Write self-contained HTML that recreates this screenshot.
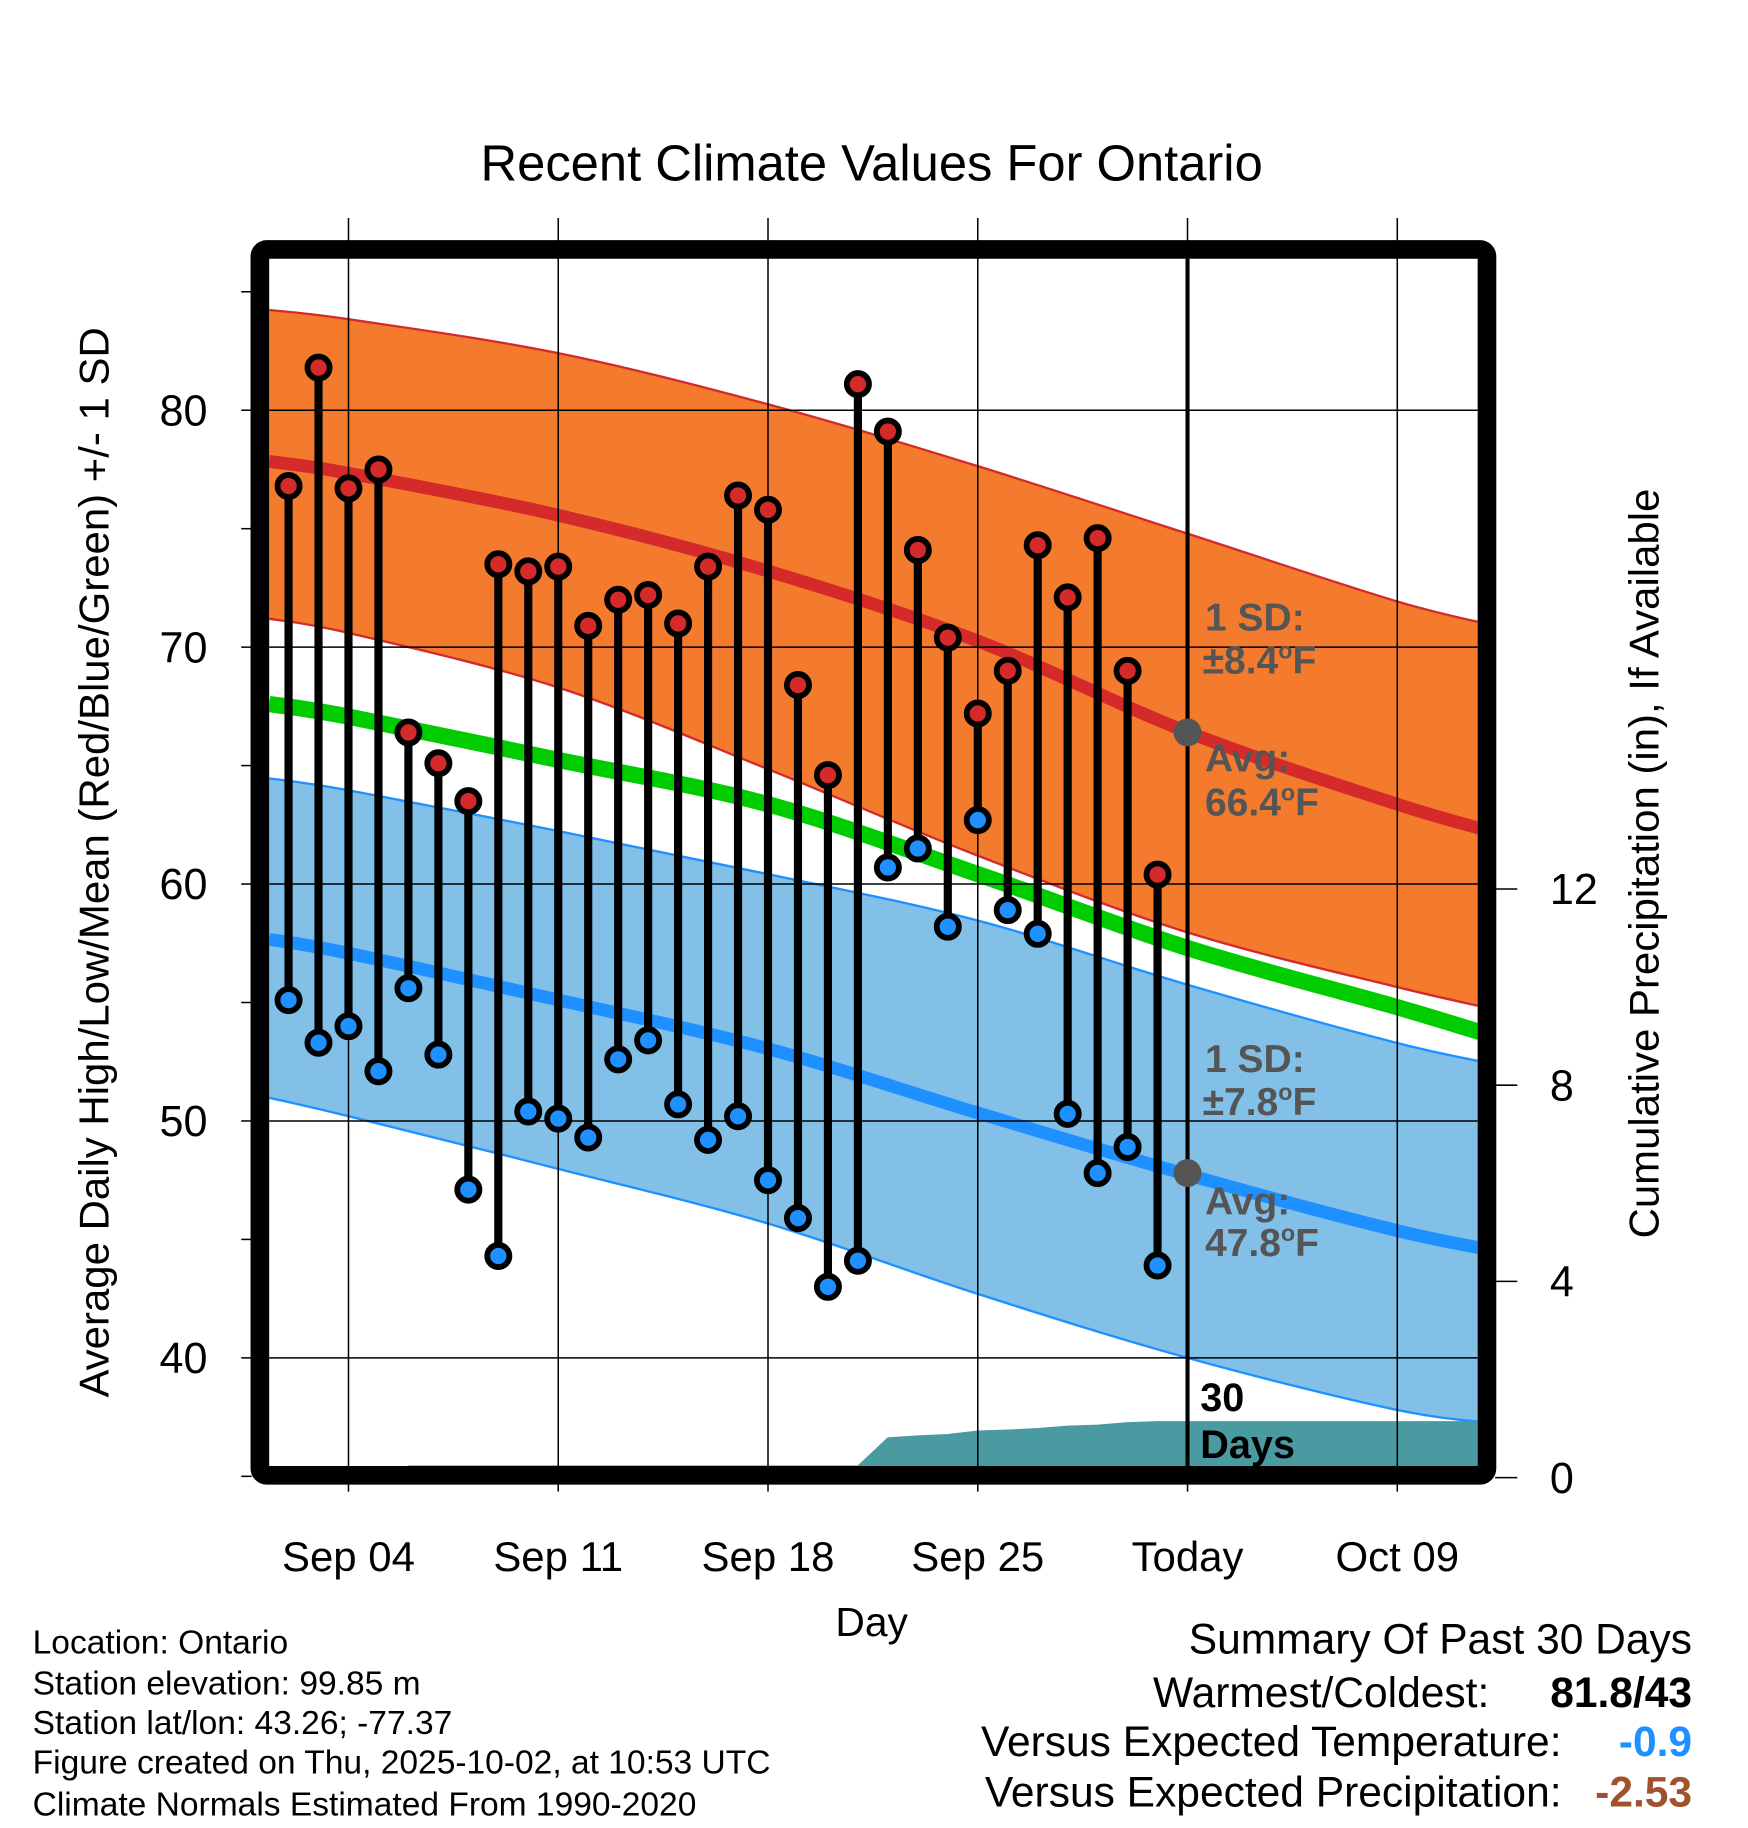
<!DOCTYPE html>
<html><head><meta charset="utf-8"><style>
html,body{margin:0;padding:0;background:#fff;}
svg{display:block;font-family:"Liberation Sans",Arial,sans-serif;}
</style></head><body>
<svg id="chart" width="1748" height="1828" viewBox="0 0 1500 1568.6" xmlns="http://www.w3.org/2000/svg">
<text x="748" y="155" font-size="43.5" text-anchor="middle">Recent Climate Values For Ontario</text>
<g id="bands"></g>
<g id="grid"></g>
<g id="marks"></g>
<g id="axes"></g>
<text transform="translate(93,740) rotate(-90)" font-size="36" text-anchor="middle">Average Daily High/Low/Mean (Red/Blue/Green) +/- 1 SD</text>
<text transform="translate(1423,741) rotate(-90)" font-size="36" text-anchor="middle">Cumulative Precipitation (in), If Available</text>
<text x="748" y="1404" font-size="35" text-anchor="middle">Day</text>
<g fill="#555" font-size="33.5" font-weight="bold">
<text x="1034" y="541">1 SD:</text>
<text x="1032" y="578">±8.4<tspan font-size="20" dy="-13">o</tspan><tspan dy="13">F</tspan></text>
<text x="1034" y="662">Avg:</text>
<text x="1034" y="700">66.4<tspan font-size="20" dy="-13">o</tspan><tspan dy="13">F</tspan></text>
</g>
<g fill="#555" font-size="33.5" font-weight="bold">
<text x="1034" y="920">1 SD:</text>
<text x="1032" y="957">±7.8<tspan font-size="20" dy="-13">o</tspan><tspan dy="13">F</tspan></text>
<text x="1034" y="1042">Avg:</text>
<text x="1034" y="1078">47.8<tspan font-size="20" dy="-13">o</tspan><tspan dy="13">F</tspan></text>
</g>
<text x="1030" y="1211" font-size="34" font-weight="bold">30</text>
<text x="1030" y="1251" font-size="34" font-weight="bold">Days</text>
<g font-size="28.8">
<text x="28" y="1419">Location: Ontario</text>
<text x="28" y="1454">Station elevation: 99.85 m</text>
<text x="28" y="1488">Station lat/lon: 43.26; -77.37</text>
<text x="28" y="1522">Figure created on Thu, 2025-10-02, at 10:53 UTC</text>
<text x="28" y="1558">Climate Normals Estimated From 1990-2020</text>
</g>
<g font-size="36.5">
<text x="1452" y="1419" text-anchor="end">Summary Of Past 30 Days</text>
<text x="1278" y="1465" text-anchor="end">Warmest/Coldest:</text>
<text x="1452" y="1465" text-anchor="end" font-weight="bold">81.8/43</text>
<text x="1340" y="1507" text-anchor="end">Versus Expected Temperature:</text>
<text x="1452" y="1507" text-anchor="end" font-weight="bold" fill="#1e90ff">-0.9</text>
<text x="1340" y="1550" text-anchor="end">Versus Expected Precipitation:</text>
<text x="1452" y="1550" text-anchor="end" font-weight="bold" fill="#a0522d">-2.53</text>
</g>
</svg>
<script>
// data (day offsets from Sep 1)
const highs = [76.8,81.8,76.7,77.5,66.4,65.1,63.5,73.5,73.2,73.4,70.9,72.0,72.2,71.0,73.4,76.4,75.8,68.4,64.6,81.1,79.1,74.1,70.4,67.2,69.0,74.3,72.1,74.6,69.0,60.4];
const lows  = [55.1,53.3,54.0,52.1,55.6,52.8,47.1,44.3,50.4,50.1,49.3,52.6,53.4,50.7,49.2,50.2,47.5,45.9,43.0,44.1,60.7,61.5,58.2,62.7,58.9,57.9,50.3,47.8,48.9,43.9];
const firstDay = 1;
const normDays = [0.35,3,10,17,24,31,38,41.65];
const normHighUpper = [84.23,83.84,82.41,80.25,77.64,74.79,71.93,70.80];
const normHighAvg   = [77.84,77.34,75.57,73.21,70.26,66.42,63.37,62.05];
const normHighLower = [71.2,70.6,68.3,64.85,61.2,57.96,55.65,54.6];
const normMean      = [67.6,67.07,65.24,63.37,60.42,57.3,54.8,53.4];
const normLowUpper  = [64.46,63.96,62.24,60.42,58.46,55.75,53.29,52.3];
const normLowAvg    = [57.67,57.08,55.11,53.05,50.34,47.73,45.37,44.44];
const normLowLower  = [50.98,50.2,47.98,45.67,42.7,40.0,37.8,37.2];
const precipDays = [5,19,20,21,22,23,24,25,26,27,28,29,30,41.65];
const precipVals = [0,0,0.2,0.81,0.85,0.88,0.95,0.97,1.0,1.05,1.07,1.12,1.14,1.14];
const yTicks = [40,50,60,70,80];
const y2Ticks = [0,4,8,12];
const xTickDays = [3,10,17,24,31,38];
const xTickLabels = ["Sep 04","Sep 11","Sep 18","Sep 25","Today","Oct 09"];
const todayDay = 31, todayHigh = 66.4, todayLow = 47.8;

const L=231,R=1268,T=222,B=1259;
const X=d=>221.9+d*(180/7);
const Y=v=>352+(80-v)*20.33;
const Y2=p=>1268-p*42.1;
const NS="http://www.w3.org/2000/svg";
function mk(tag,parent,attrs){const e=document.createElementNS(NS,tag);for(const k in attrs)e.setAttribute(k,attrs[k]);parent.appendChild(e);return e;}
const bands=document.getElementById('bands'),grid=document.getElementById('grid'),marks=document.getElementById('marks'),axes=document.getElementById('axes');
const svg=document.getElementById('chart');
const defs=mk('defs',svg,{});const cp=mk('clipPath',defs,{id:'pc'});mk('rect',cp,{x:L,y:T,width:R-L,height:B-T});
bands.setAttribute('clip-path','url(#pc)');marks.setAttribute('clip-path','url(#pc)');
// smooth path through points (Catmull-Rom)
function smooth(pts,move){
  let s=(move?'M':'L')+pts[0][0].toFixed(1)+','+pts[0][1].toFixed(1);
  for(let i=0;i<pts.length-1;i++){
    const p0=pts[Math.max(0,i-1)],p1=pts[i],p2=pts[i+1],p3=pts[Math.min(pts.length-1,i+2)];
    const c1=[p1[0]+(p2[0]-p0[0])/6,p1[1]+(p2[1]-p0[1])/6];
    const c2=[p2[0]-(p3[0]-p1[0])/6,p2[1]-(p3[1]-p1[1])/6];
    s+='C'+c1[0].toFixed(1)+','+c1[1].toFixed(1)+' '+c2[0].toFixed(1)+','+c2[1].toFixed(1)+' '+p2[0].toFixed(1)+','+p2[1].toFixed(1);
  }
  return s;
}
const pts=arr=>normDays.map((d,i)=>[X(d),Y(arr[i])]);
const line=arr=>smooth(pts(arr),true);
const band=(u,l)=>smooth(pts(u),true)+smooth(pts(l).reverse(),false)+'Z';
let e;
e=mk('path',bands,{d:band(normLowUpper,normLowLower),fill:'#82c0e8',stroke:'none'});

e=mk('path',bands,{d:line(normLowUpper),fill:'none',stroke:'#1e90ff','stroke-width':2});
e=mk('path',bands,{d:line(normLowLower),fill:'none',stroke:'#1e90ff','stroke-width':2});
e=mk('path',bands,{d:band(normHighUpper,normHighLower),fill:'#f47b2e',stroke:'none'});

e=mk('path',bands,{d:line(normHighUpper),fill:'none',stroke:'#d42a2a','stroke-width':2});
e=mk('path',bands,{d:line(normHighLower),fill:'none',stroke:'#d42a2a','stroke-width':2});
e=mk('path',bands,{d:line(normMean),fill:'none',stroke:'#00cc00','stroke-width':14});

e=mk('path',bands,{d:line(normHighAvg),fill:'none',stroke:'#d42a2a','stroke-width':11});

e=mk('path',bands,{d:line(normLowAvg),fill:'none',stroke:'#1e90ff','stroke-width':11});

// precip
let pd='M'+X(precipDays[0])+','+(B+2);
precipDays.forEach((d,i)=>{pd+='L'+X(d).toFixed(1)+','+Math.min(Y2(precipVals[i]),B-1).toFixed(1);});
pd+='L'+X(precipDays[precipDays.length-1])+','+(B+2)+'Z';
e=mk('path',bands,{d:pd,fill:'#4a9aa2',stroke:'#4a9aa2','stroke-width':1});

// grid
yTicks.forEach(v=>{e=mk('line',grid,{x1:L,x2:R,y1:Y(v),y2:Y(v),stroke:'#000','stroke-width':1.3});
});
xTickDays.forEach((d,i)=>{e=mk('line',grid,{x1:X(d),x2:X(d),y1:187,y2:1280,stroke:'#000','stroke-width':1.3});

e=mk('text',axes,{x:X(d),y:1348,'font-size':36,'text-anchor':'middle'});e.textContent=xTickLabels[i];
});
for(let v=35;v<=85;v+=5){e=mk('line',axes,{x1:207,x2:216,y1:Y(v),y2:Y(v),stroke:'#000','stroke-width':1.3});
}
yTicks.forEach(v=>{e=mk('text',axes,{x:178,y:Y(v)+13,'font-size':37,'text-anchor':'end'});e.textContent=v;
});
y2Ticks.forEach(p=>{e=mk('line',axes,{x1:1283,x2:1302,y1:Y2(p),y2:Y2(p),stroke:'#000','stroke-width':1.3});

e=mk('text',axes,{x:1330,y:Y2(p)+13,'font-size':37});e.textContent=p;
});
// today line
e=mk('line',marks,{x1:X(todayDay),x2:X(todayDay),y1:T,y2:B,stroke:'#000','stroke-width':3.5});

// observations
highs.forEach((h,i)=>{const x=X(firstDay+i);
e=mk('line',marks,{x1:x,x2:x,y1:Y(h),y2:Y(lows[i]),stroke:'#000','stroke-width':7});

e=mk('circle',marks,{cx:x,cy:Y(h),r:9.5,fill:'#d42a2a',stroke:'#000','stroke-width':5});

e=mk('circle',marks,{cx:x,cy:Y(lows[i]),r:9.5,fill:'#1e90ff',stroke:'#000','stroke-width':5});
});
e=mk('circle',marks,{cx:X(todayDay),cy:Y(todayHigh),r:12,fill:'#555'});

e=mk('circle',marks,{cx:X(todayDay),cy:Y(todayLow),r:12,fill:'#555'});

// frame
e=mk('rect',axes,{x:223,y:214,width:1053,height:1052,fill:'none',stroke:'#000','stroke-width':16,rx:6});

</script>
</body></html>
